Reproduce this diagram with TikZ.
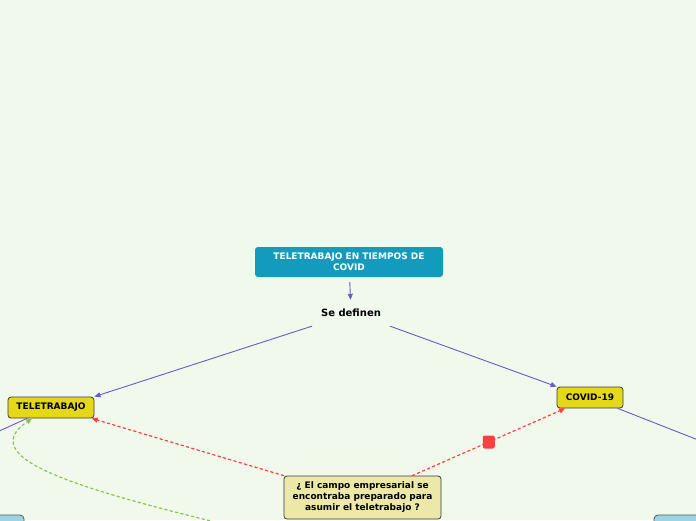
\documentclass[tikz,border=0pt]{standalone}
\usepackage{fontspec}
\setmainfont{DejaVu Sans}
\usetikzlibrary{arrows.meta,positioning}
\definecolor{fondo}{RGB}{240,249,236}
\definecolor{titulo}{RGB}{19,155,190}
\definecolor{amarillo}{RGB}{229,216,27}
\definecolor{crema}{RGB}{236,232,168}
\definecolor{celeste}{RGB}{158,211,226}
\definecolor{borde}{RGB}{60,60,60}
\definecolor{morado}{RGB}{106,90,205}
\definecolor{rojo}{RGB}{255,64,64}
\definecolor{verde}{RGB}{139,195,74}

\begin{document}
\begin{tikzpicture}[x=1pt,y=-1pt,line cap=round,
  every node/.style={font=\bfseries\fontsize{9}{11}\selectfont},
  caja/.style={draw=borde,line width=0.8pt,fill=amarillo,rounded corners=3pt,minimum height=21pt,inner sep=0pt},
  borrosa/.style={draw=borde!80!celeste,line width=0.8pt,fill=celeste,rounded corners=4pt,minimum height=40pt},
  flecha/.style={morado,line width=0.9pt,-{Triangle[length=6pt,width=5pt]}},
  puntos/.style={line width=1.2pt,dash pattern=on 2.5pt off 3pt,-{Triangle[length=6pt,width=5pt]}}]
  \useasboundingbox (0,0) rectangle (696,520);
  \clip (0,0) rectangle (696,520);
  \fill[fondo] (0,0) rectangle (696,520);

  \node[fill=titulo,text=white,rounded corners=3pt,minimum width=188pt,minimum height=30pt,align=center,inner sep=0pt] (tema) at (349,262) {TELETRABAJO EN TIEMPOS DE\\COVID};
  \node[font=\bfseries\fontsize{10}{12}\selectfont,minimum width=78pt,minimum height=26pt] (define) at (351,313) {Se definen};
  \node[caja,minimum width=86pt] (tele) at (51,407.5) {TELETRABAJO};
  \node[caja,minimum width=66pt] (covid) at (590,397.5) {COVID-19};
  \node[caja,fill=crema,minimum width=157pt,minimum height=43pt,align=center] (preg) at (362.5,497.5) {¿ El campo empresarial se\\encontraba preparado para\\asumir el teletrabajo ?};
  \node[borrosa,minimum width=48pt] (izq) at (0,535) {};
  \node[borrosa,minimum width=92pt] (der) at (700,535) {};
  \coordinate (fuera1) at (-100,476);
  \coordinate (fuera2) at (800,480);
  \coordinate (origen) at (290,540);

  \draw[flecha,shorten <=5pt] (tema) -- (define);
  \draw[flecha] (define.south west) -- (tele.north east);
  \draw[flecha] (define.south east) -- (covid.north west);
  \draw[morado,line width=0.9pt] (tele) -- (fuera1);
  \draw[morado,line width=0.9pt] (covid) -- (fuera2);

  \draw[puntos,rojo] (preg.north west) -- (tele.-15);
  \draw[puntos,rojo] (preg) -- (covid)
    node[midway,fill=rojo,rounded corners=2pt,minimum width=12pt,minimum height=13pt,inner sep=0pt] (marca) {};
  \draw[puntos,verde] (origen) .. controls (100,495) and (-32,462) .. (tele.210);
\end{tikzpicture}
\end{document}
